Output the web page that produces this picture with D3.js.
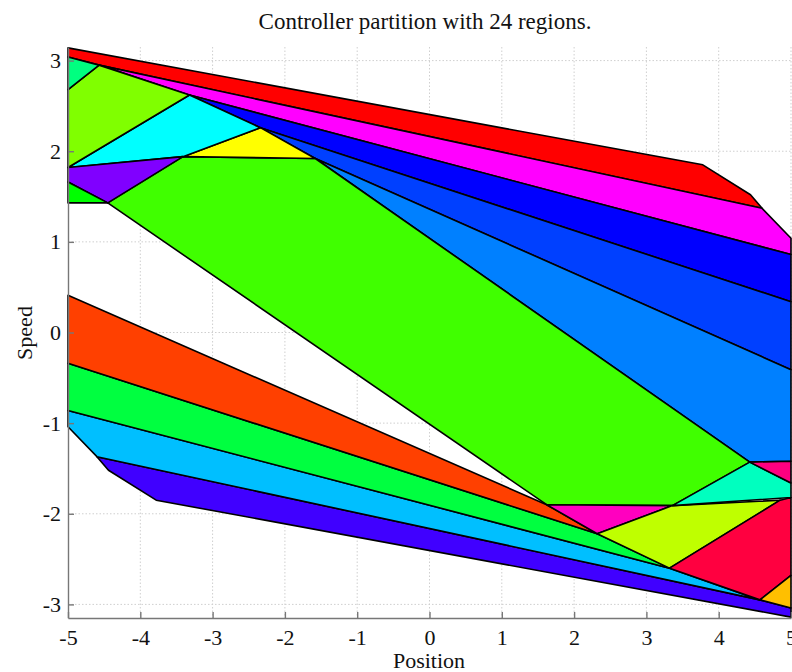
<!DOCTYPE html>
<html>
<head>
<meta charset="utf-8">
<script src="https://cdn.jsdelivr.net/npm/d3@7"></script>
<style>
  body { margin: 0; background: #fff; }
  text { font-family: "Liberation Serif", "Times New Roman", serif; fill: #111; }
</style>
</head>
<body>
<div id="chart"></div>
<script>
// axis ticks
const xTicks = [-5, -4, -3, -2, -1, 0, 1, 2, 3, 4, 5];
const yTicks = [-3, -2, -1, 0, 1, 2, 3];

// region fill colours (hsv-style palette)
const regionColors = [
  "#ff0000", "#ff00ff", "#0000ff", "#0040ff", "#0080ff", "#40ff00",
  "#ffff00", "#00ffff", "#80ff00", "#00ff80", "#8000ff", "#00ff00",
  "#4000ff", "#00bfff", "#00ff40", "#ff4000", "#ff00bf", "#bfff00",
  "#ff0040", "#ffbf00", "#00ffbf", "#ff0080"
];

// polygon vertices [position, speed], same order as the colours
const regionVertices = [
  [[-5, 3.14], [3.78, 1.85], [4.44, 1.52], [4.6, 1.37], [-4.57, 2.95], [-5, 3.04]],
  [[-4.57, 2.95], [4.6, 1.37], [5, 1.04], [5, 0.86], [-3.32, 2.62]],
  [[-3.32, 2.62], [5, 0.86], [5, 0.34], [-2.34, 2.26]],
  [[-2.34, 2.26], [5, 0.34], [5, -0.41], [-1.58, 1.92]],
  [[-1.58, 1.92], [5, -0.41], [5, -1.42], [4.43, -1.43]],
  [[-3.41, 1.94], [-1.58, 1.92], [4.43, -1.43], [3.36, -1.91], [1.62, -1.9], [-4.45, 1.43]],
  [[-3.41, 1.94], [-2.34, 2.26], [-1.58, 1.92]],
  [[-5, 1.82], [-3.32, 2.62], [-2.34, 2.26], [-3.41, 1.94]],
  [[-5, 2.68], [-4.57, 2.95], [-3.32, 2.62], [-5, 1.82]],
  [[-5, 3.04], [-4.57, 2.95], [-5, 2.68]],
  [[-5, 1.82], [-3.41, 1.94], [-4.45, 1.43], [-5, 1.66]],
  [[-5, 1.66], [-4.45, 1.43], [-5, 1.43]],
  [[-4.6, -1.37], [4.57, -2.95], [5, -3.04], [5, -3.14], [-3.78, -1.85], [-4.44, -1.52]],
  [[-5, -0.86], [3.32, -2.6], [4.57, -2.95], [-4.6, -1.37], [-5, -1.04]],
  [[-5, -0.34], [2.32, -2.22], [3.32, -2.6], [-5, -0.86]],
  [[-5, 0.41], [1.62, -1.9], [2.32, -2.22], [-5, -0.34]],
  [[1.62, -1.9], [3.36, -1.91], [2.32, -2.22]],
  [[2.32, -2.22], [3.36, -1.91], [4.85, -1.85], [3.32, -2.6]],
  [[4.85, -1.85], [5, -1.82], [5, -2.68], [4.57, -2.95], [3.32, -2.6]],
  [[5, -2.68], [5, -3.04], [4.57, -2.95]],
  [[3.36, -1.91], [4.43, -1.43], [5, -1.66], [5, -1.82]],
  [[4.43, -1.43], [5, -1.42], [5, -1.66]]
];

const width = 792, height = 672;
const plotLeft = 68, plotRight = 791, plotTop = 47, plotBottom = 618;

const svg = d3.select("#chart")
  .append("svg")
  .attr("width", width)
  .attr("height", height);

const x = d3.scaleLinear().domain([-5, 5]).range([plotLeft, plotRight]);
const y = d3.scaleLinear().domain([-3.15, 3.15]).range([plotBottom, plotTop]);

// dotted grid
const grid = svg.append("g")
  .attr("stroke", "#cfcfcf")
  .attr("stroke-width", 1)
  .attr("stroke-dasharray", "1.5,2");
grid.selectAll(".gx")
  .data(xTicks.slice(1))
  .join("line")
  .attr("x1", d => x(d)).attr("x2", d => x(d))
  .attr("y1", plotTop).attr("y2", plotBottom);
grid.selectAll(".gy")
  .data(yTicks)
  .join("line")
  .attr("x1", plotLeft).attr("x2", plotRight)
  .attr("y1", d => y(d)).attr("y2", d => y(d));

// regions
const poly = d3.line()
  .x(d => x(d[0]))
  .y(d => y(d[1]))
  .curve(d3.curveLinearClosed);

svg.append("g")
  .attr("stroke", "#000")
  .attr("stroke-width", 1.6)
  .attr("stroke-linejoin", "round")
  .selectAll("path")
  .data(regionVertices)
  .join("path")
  .attr("fill", (d, i) => regionColors[i])
  .attr("d", poly);

// axes
svg.append("g")
  .attr("transform", `translate(0,${plotBottom})`)
  .call(d3.axisBottom(x)
    .tickValues(xTicks)
    .tickSizeInner(-6)
    .tickSizeOuter(0)
    .tickPadding(11));

svg.append("g")
  .attr("transform", `translate(${plotLeft},0)`)
  .call(d3.axisLeft(y)
    .tickValues(yTicks)
    .tickSizeInner(-6)
    .tickSizeOuter(0)
    .tickPadding(7));

svg.selectAll(".domain, .tick line")
  .attr("stroke", "#777")
  .attr("stroke-width", 1.4);
svg.selectAll(".tick text")
  .attr("font-family", "Liberation Serif, serif")
  .attr("font-size", 22)
  .attr("fill", "#111")
  .text(d => d < 0 ? "-" + Math.abs(d) : d);

// labels
svg.append("text")
  .attr("x", 425)
  .attr("y", 29)
  .attr("text-anchor", "middle")
  .attr("font-size", 23)
  .text("Controller partition with 24 regions.");

svg.append("text")
  .attr("x", 429)
  .attr("y", 668)
  .attr("text-anchor", "middle")
  .attr("font-size", 22)
  .text("Position");

svg.append("text")
  .attr("transform", "translate(32,333) rotate(-90)")
  .attr("text-anchor", "middle")
  .attr("font-size", 22)
  .text("Speed");
</script>
</body>
</html>
